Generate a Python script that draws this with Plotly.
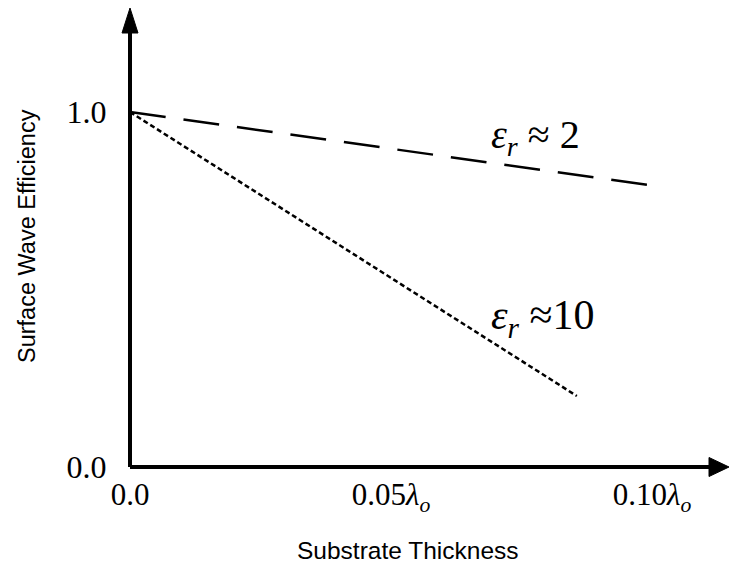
import plotly.graph_objects as go

# ---- data ----
thickness_er2 = [0.0, 0.1015]
efficiency_er2 = [1.0, 0.79]
thickness_er10 = [0.0, 0.0856]
efficiency_er10 = [1.0, 0.20]
x_tickvals = [0.0, 0.05, 0.10]
x_ticktext = ["0.0", "0.05<i>λ</i><sub><i>o</i></sub>", "0.10<i>λ</i><sub><i>o</i></sub>"]
y_tickvals = [0.0, 1.0]
y_ticktext = ["0.0", "1.0"]

W, H = 729, 563
L, R, T, B = 130, 0, 8, 96
pw, ph = W - L - R, H - T - B
XMAX = 599 / 5220.0
YMAX = (467 - 8) / 355.0

serif = "Liberation Serif, Times New Roman, serif"
sans = "Liberation Sans, Arial, sans-serif"

fig = go.Figure()
fig.add_trace(go.Scatter(x=thickness_er2, y=efficiency_er2, mode="lines",
                         line=dict(color="black", width=2.5, dash="36px,18px"),
                         showlegend=False))
fig.add_trace(go.Scatter(x=thickness_er10, y=efficiency_er10, mode="lines",
                         line=dict(color="black", width=2.5, dash="5px,3px"),
                         showlegend=False))

# axis lines with arrowheads (paper coords)
ax_len = 25 / ph
ax_hw = 8 / pw
fig.add_shape(type="line", xref="paper", yref="paper", x0=0, y0=0, x1=0, y1=1 - ax_len,
              line=dict(color="black", width=4))
fig.add_shape(type="path", xref="paper", yref="paper",
              path=f"M {-ax_hw},{1-ax_len} L 0,1 L {ax_hw},{1-ax_len} Z",
              fillcolor="black", line=dict(color="black", width=1))
hx_len = 20 / pw
hx_hw = 9.5 / ph
fig.add_shape(type="line", xref="paper", yref="paper", x0=0, y0=0, x1=1 - hx_len, y1=0,
              line=dict(color="black", width=4))
fig.add_shape(type="path", xref="paper", yref="paper",
              path=f"M {1-hx_len},{-hx_hw} L 1,0 L {1-hx_len},{hx_hw} Z",
              fillcolor="black", line=dict(color="black", width=1))

# curve labels
fig.add_annotation(x=(535 - L) / 5220.0, y=(467 - 137) / 355.0, xref="x", yref="y",
                   showarrow=False, xanchor="center", yanchor="middle",
                   text="<i>ε</i><sub><i>r</i></sub> ≈ 2",
                   font=dict(family=serif, size=40, color="black"))
fig.add_annotation(x=(543 - L) / 5220.0, y=(467 - 318) / 355.0, xref="x", yref="y",
                   showarrow=False, xanchor="center", yanchor="middle",
                   text="<i>ε</i><sub><i>r</i></sub> ≈10",
                   font=dict(family=serif, size=42, color="black"))

# axis titles
fig.add_annotation(x=(27 - L) / pw, y=(467 - 236) / ph, xref="paper", yref="paper",
                   showarrow=False, textangle=-90, xanchor="center", yanchor="middle",
                   text="Surface Wave Efficiency",
                   font=dict(family=sans, size=23.5, color="black"))
fig.add_annotation(x=(408 - L) / pw, y=(467 - 550) / ph, xref="paper", yref="paper",
                   showarrow=False, xanchor="center", yanchor="middle",
                   text="Substrate Thickness",
                   font=dict(family=sans, size=24.5, color="black"))

fig.update_xaxes(range=[0, XMAX], showgrid=False, zeroline=False, showline=False,
                 tickvals=x_tickvals, ticktext=x_ticktext, ticks="outside", ticklen=0,
                 tickcolor="rgba(0,0,0,0)",
                 tickfont=dict(family=serif, size=31, color="black"))
fig.update_yaxes(range=[0, YMAX], showgrid=False, zeroline=False, showline=False,
                 tickvals=y_tickvals, ticktext=y_ticktext, ticks="outside", ticklen=16,
                 tickcolor="rgba(0,0,0,0)",
                 tickfont=dict(family=serif, size=32, color="black"))
fig.update_layout(width=W, height=H, margin=dict(l=L, r=R, t=T, b=B),
                  plot_bgcolor="white", paper_bgcolor="white")
fig.write_html("out.html")
